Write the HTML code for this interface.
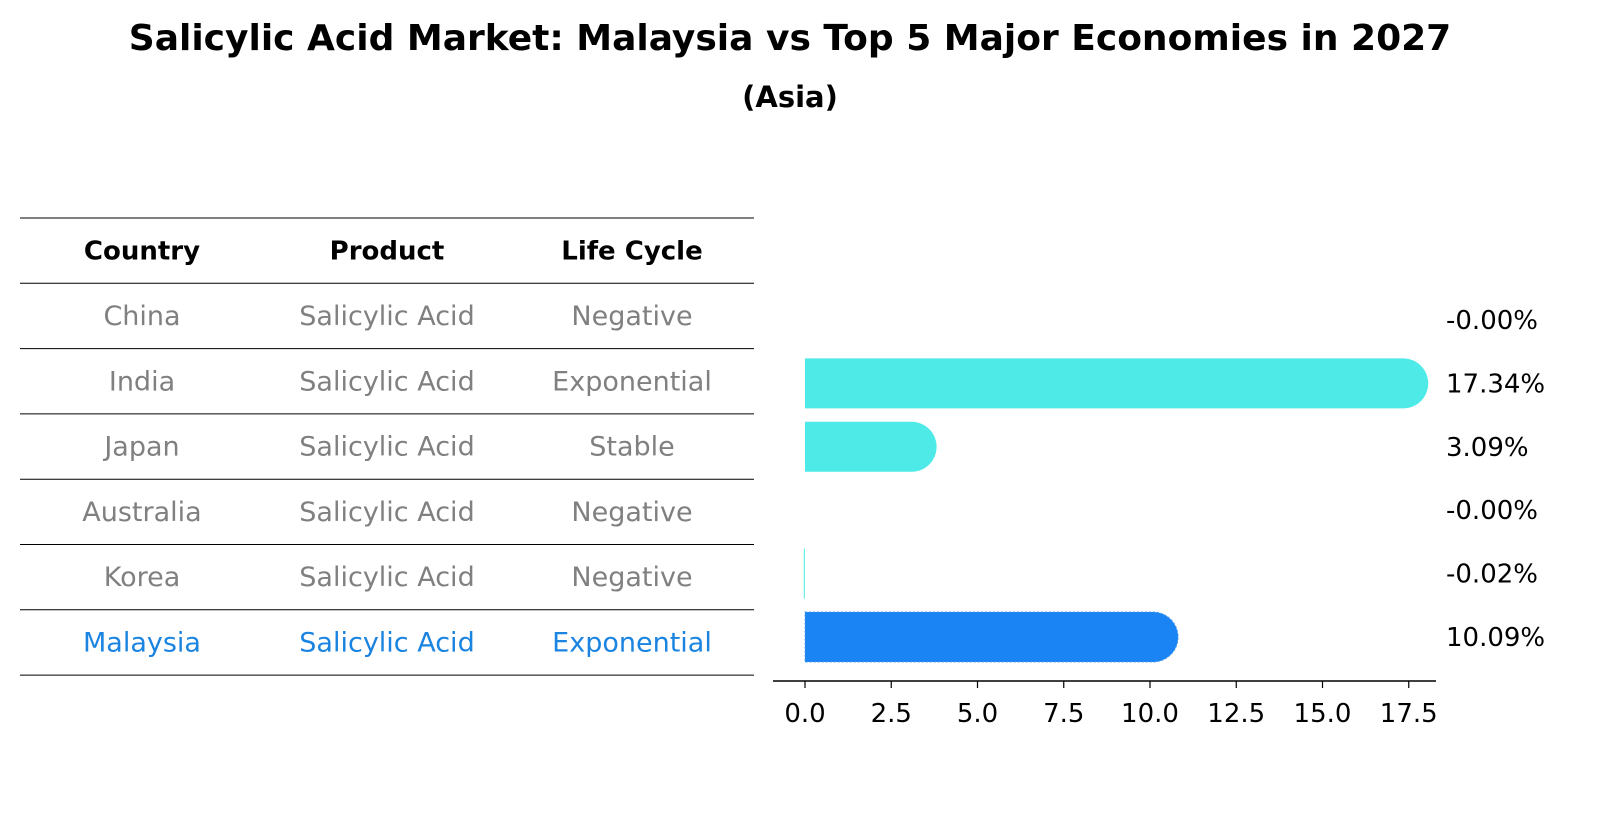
<!DOCTYPE html>
<html><head><meta charset="utf-8"><style>
body{margin:0;background:#fff;font-family:"Liberation Sans","DejaVu Sans",sans-serif;}
svg text{font-family:"DejaVu Sans","Liberation Sans",sans-serif;}
</style></head><body>
<svg id="c" width="1604" height="823" xmlns="http://www.w3.org/2000/svg">
<text x="790" y="50" text-anchor="middle" font-size="36" font-weight="bold">Salicylic Acid Market: Malaysia vs Top 5 Major Economies in 2027</text>
<text x="790" y="107" text-anchor="middle" font-size="29" font-weight="bold">(Asia)</text>
<g id="table"></g>
<g id="bars"></g>
</svg>
<script>
const countries=["China","India","Japan","Australia","Korea","Malaysia"];
const products=["Salicylic Acid","Salicylic Acid","Salicylic Acid","Salicylic Acid","Salicylic Acid","Salicylic Acid"];
const lifeCycles=["Negative","Exponential","Stable","Negative","Negative","Exponential"];
const growth=[-0.00,17.34,3.09,-0.00,-0.02,10.09];
const valueLabels=["-0.00%","17.34%","3.09%","-0.00%","-0.02%","10.09%"];
const ticks=[0,2.5,5,7.5,10,12.5,15,17.5];
const tickLabels=["0.0","2.5","5.0","7.5","10.0","12.5","15.0","17.5"];

const NS="http://www.w3.org/2000/svg";
function mk(tag,attrs,parent){const e=document.createElementNS(NS,tag);for(const k in attrs)e.setAttribute(k,attrs[k]);parent.appendChild(e);return e;}
const T=document.getElementById('table'),B=document.getElementById('bars');
const tTop=218,rowH=65.3,colX=[142,387,632];
const heads=["Country","Product","Life Cycle"];
for(let i=0;i<=countries.length+1;i++){
  const l=mk('line',{x1:20,x2:754,y1:tTop+i*rowH,y2:tTop+i*rowH,stroke:'#000','stroke-width':1},T);
  
  
}
heads.forEach((h,j)=>{const t=mk('text',{x:colX[j],y:tTop+rowH/2+9,'text-anchor':'middle','font-size':26,'font-weight':'bold'},T);t.textContent=h;
  
  });
countries.forEach((c,i)=>{
  const y=tTop+(i+1)*rowH+rowH/2+9;
  const col=c==="Malaysia"?'#1a84e0':'#808080';
  [c,products[i],lifeCycles[i]].forEach((v,j)=>{const t=mk('text',{x:colX[j],y:y,'text-anchor':'middle','font-size':27,fill:col},T);t.textContent=v;
    
    });
});
const x0=805,pxPer=34.5,rowC0=320,rowStep=63.4,bh=50,r=25;
const X=v=>x0+v*pxPer, Y=i=>rowC0+i*rowStep;
growth.forEach((v,i)=>{
  const isM=countries[i]==="Malaysia";
  const col=isM?'#1a84f5':'#4deae8';
  const yc=Y(i);
  if(v>0){
    const xe=X(v);
    const attrs={d:`M${x0},${yc-bh/2} L${xe},${yc-bh/2} A${r},${r} 0 0 1 ${xe},${yc+bh/2} L${x0},${yc+bh/2} Z`,fill:col};
    if(isM){attrs.stroke='#4d9be8';attrs['stroke-dasharray']='2,2';attrs['stroke-width']=1;}
    const p=mk('path',attrs,B);
    
    
  } else if(v<0){
    const p=mk('rect',{x:X(v)-0.5,y:yc-bh/2,width:Math.max(1,x0-X(v)),height:bh,fill:col},B);
    
    
  }
  const t=mk('text',{x:1446,y:yc+9,'font-size':26},B);t.textContent=valueLabels[i];
  
  
});
const ax=mk('line',{x1:773,x2:1436,y1:681,y2:681,stroke:'#000','stroke-width':1.5},B);


ticks.forEach((v,i)=>{
  const tk=mk('line',{x1:X(v),x2:X(v),y1:681,y2:688,stroke:'#000','stroke-width':1.2},B);
  
  
  const t=mk('text',{x:X(v),y:722,'text-anchor':'middle','font-size':26},B);t.textContent=tickLabels[i];
  
  
});
</script>
</body></html>
